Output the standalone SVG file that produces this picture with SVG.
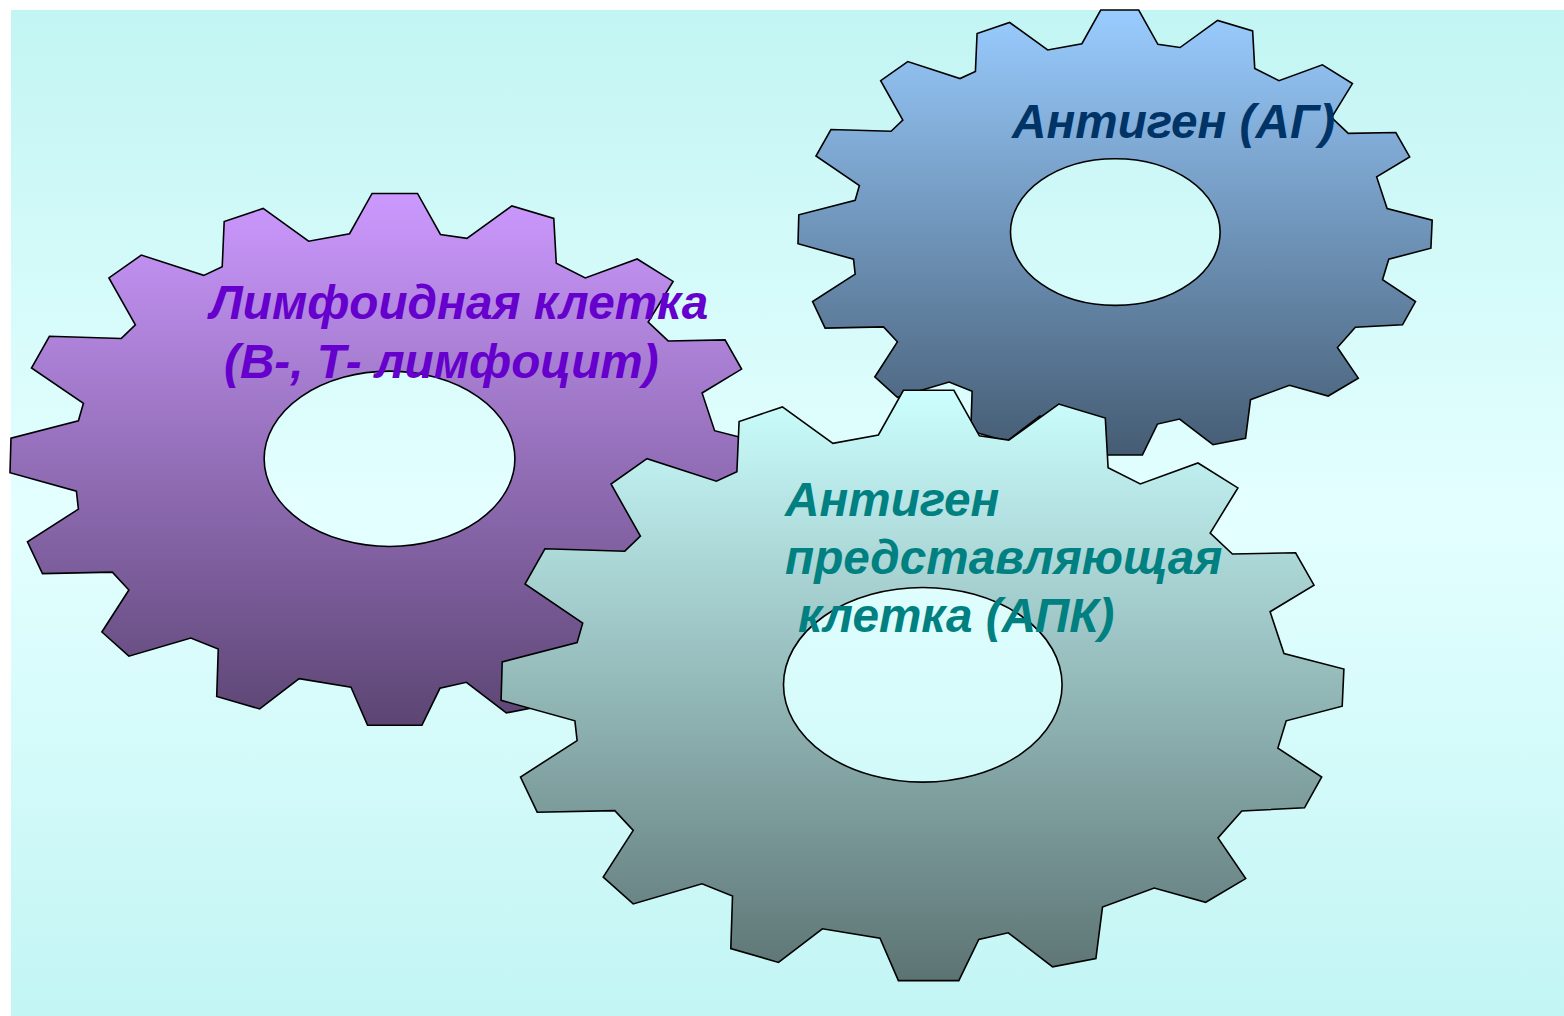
<svg xmlns="http://www.w3.org/2000/svg" xmlns:xlink="http://www.w3.org/1999/xlink" width="1564" height="1016" viewBox="0 0 1564 1016">
<style>
.gear{fill-rule:evenodd;stroke:#000;stroke-width:1.6;stroke-linejoin:miter;vector-effect:non-scaling-stroke}
text{font-family:"Liberation Sans",Arial,sans-serif;font-weight:bold;font-style:italic;font-size:47.7px}
.t1{fill:#6600cc}.t2{fill:#003366}.t3{fill:#008080}
</style>
<defs>
<linearGradient id="bg" x1="0" y1="0" x2="0" y2="1"><stop offset="0" stop-color="#c2f5f3"/><stop offset="0.5" stop-color="#e4ffff"/><stop offset="1" stop-color="#c2f5f4"/></linearGradient>
<linearGradient id="g1" x1="0" y1="0" x2="0" y2="1"><stop offset="0" stop-color="#cc99ff"/><stop offset="1" stop-color="#5c4573"/></linearGradient>
<linearGradient id="g2" x1="0" y1="0" x2="0" y2="1"><stop offset="0" stop-color="#99ccff"/><stop offset="1" stop-color="#455c73"/></linearGradient>
<linearGradient id="g3" x1="0" y1="0" x2="0" y2="1"><stop offset="0" stop-color="#ccffff"/><stop offset="1" stop-color="#5c7373"/></linearGradient>
<path id="gear" class="gear" d="M903.4 390.3L953.9 390.3L979.4 435.8L1008.8 440.1L1058.7 404.1L1105.3 418L1108.1 467.8L1140.3 484L1198 463L1237.9 487.9L1210.2 533L1232.4 554L1295.6 552.8L1314 585.2L1270.1 611.7L1284 653.6L1343.9 669L1342.2 706.2L1286.2 720.8L1277.9 748.1L1321.7 777L1304.5 807.8L1241.8 811L1218 837.9L1245.7 878.6L1205.7 902.3L1154.2 888.1L1102.5 907.1L1095.9 958.5L1052.6 966.8L1008.2 932.8L978.8 939.5L958.8 980.6L898.4 980.6L880 938.3L822.4 928.8L778.5 962.4L730.8 948.6L732.5 896L702 883.8L633.2 903.9L603.2 877L633.2 830.4L614.8 810.6L537.2 812.2L520.5 777L577.1 740.6L574.9 720.8L501.1 700.3L502.2 661.9L577.1 642.6L582.7 623.2L525 584L544.9 548.8L624.8 551.2L640.4 536.2L611 484L647 458.7L716.4 481.2L736.9 471.7L739.1 421.5L782.4 406.9L832.9 443.3L878.4 435ZM783.5 684.8A139.3 97.3 0 0 0 1062.1 684.8A139.3 97.3 0 0 0 783.5 684.8Z"/>
</defs>
<rect width="1564" height="1016" fill="#fff"/>
<rect id="background" x="11" y="10" width="1553" height="1006" fill="url(#bg)"/>
<g id="gear-lymphoid">
<use href="#gear" fill="url(#g1)" transform="translate(-441 -158.2) scale(0.9 0.901)"/>
</g>
<g id="gear-antigen">
<use href="#gear" fill="url(#g2)" transform="translate(420.9 -284.3) scale(0.7525 0.754)"/>
</g>
<g id="gear-apc">
<use href="#gear" fill="url(#g3)"/>
</g>
<g id="label-lymphoid" class="t1"><text x="210" y="319">Лимфоидная клетка</text><text x="224" y="378">(В-, Т- лимфоцит)</text></g>
<g id="label-antigen" class="t2"><text x="1012" y="138">Антиген (АГ)</text></g>
<g id="label-apc" class="t3"><text x="785" y="516">Антиген</text><text x="785" y="574">представляющая</text><text x="798" y="632">клетка (АПК)</text></g>
</svg>
